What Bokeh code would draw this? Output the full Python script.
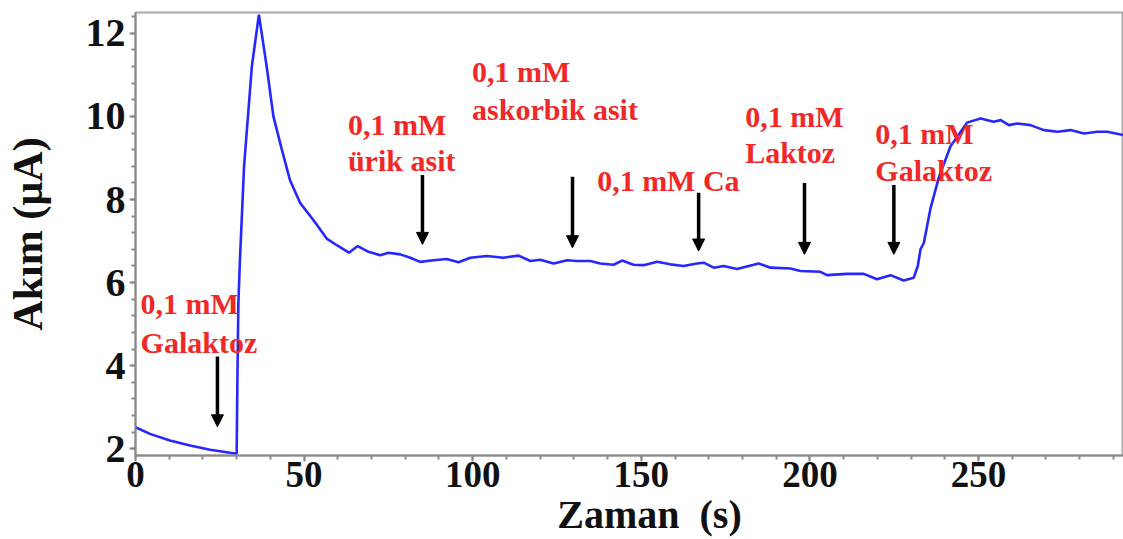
from bokeh.plotting import figure
from bokeh.models import Range1d, SingleIntervalTicker, Arrow, NormalHead, Label
from bokeh.embed import file_html
from bokeh.resources import INLINE

# ---- data ----
time_s = [0, 4.3, 10.2, 16.2, 22.1, 30, 30.2, 30.5, 31, 32.2, 34.5, 36.6, 38.9, 40.9, 43.4,
          45.8, 48.8, 52.8, 56.7, 59.7, 63.3, 65.9, 69.1, 72.6, 75, 78.5, 81.5, 84.4, 88.4,
          92.3, 95.8, 99.3, 104.2, 109.1, 113.6, 117.1, 120, 124, 128, 130.9, 134.9, 137.8,
          141.8, 144.3, 147.7, 150.7, 154.7, 158.6, 162.5, 166.5, 168.5, 171.5, 174.4, 178.4,
          184.8, 188.3, 194.2, 197.2, 203.1, 205.1, 211, 216, 219.9, 223.9, 227.8, 230.8,
          232, 232.8, 233.8, 235.8, 238.2, 241.7, 243.7, 246.6, 250.6, 254.5, 256.6, 259,
          261.5, 265.4, 269.4, 273.4, 277.3, 281.3, 285.2, 288.2, 293]
current_uA = [2.52, 2.36, 2.20, 2.08, 1.98, 1.88, 3.5, 5.5, 6.6, 8.8, 11.2, 12.45, 11.2, 10.0, 9.2,
              8.47, 7.92, 7.50, 7.06, 6.90, 6.72, 6.88, 6.74, 6.66, 6.72, 6.68, 6.60, 6.50, 6.54,
              6.57, 6.49, 6.60, 6.64, 6.60, 6.65, 6.52, 6.55, 6.46, 6.54, 6.52, 6.52, 6.46,
              6.43, 6.53, 6.43, 6.42, 6.50, 6.44, 6.40, 6.46, 6.48, 6.36, 6.40, 6.33,
              6.46, 6.36, 6.34, 6.28, 6.26, 6.18, 6.21, 6.21, 6.08, 6.18, 6.05, 6.12,
              6.40, 6.80, 6.96, 7.80, 8.52, 9.28, 9.51, 9.85, 9.95, 9.87, 9.91, 9.79,
              9.83, 9.79, 9.67, 9.63, 9.67, 9.59, 9.63, 9.63, 9.55]

# annotations: arrow x, arrow top, arrow tip (data units)
arrow_t = [24.3, 85.1, 129.6, 167.0, 198.4, 224.9]
arrow_top = [4.22, 8.59, 8.55, 8.16, 8.40, 8.35]
arrow_tip = [2.53, 6.92, 6.84, 6.76, 6.68, 6.68]

# label text lines: (x, baseline y, text) in data units
label_lines = [
    (1.5, 5.50, "0,1 mM"), (1.5, 4.56, "Galaktoz"),
    (63.0, 9.81, "0,1 mM"), (63.0, 8.94, "ürik asit"),
    (99.8, 11.07, "0,1 mM"), (99.8, 10.17, "askorbik asit"),
    (136.9, 8.46, "0,1 mM Ca"),
    (180.8, 10.00, "0,1 mM"), (180.8, 9.12, "Laktoz"),
    (219.4, 9.58, "0,1 mM"), (219.4, 8.70, "Galaktoz"),
]

x_min, x_max = 0, 293
y_min, y_max = 1.84, 12.5

p = figure(width=1123, height=539, output_backend="svg", toolbar_location=None,
           x_range=Range1d(x_min, x_max), y_range=Range1d(y_min, y_max),
           min_border_left=135, min_border_right=0, min_border_top=12, min_border_bottom=83)
p.grid.visible = False
p.outline_line_color = "#a8a8a8"
p.outline_line_width = 2

p.line(time_s, current_uA, line_color="#2626ff", line_width=2.6)

for t, top, tip in zip(arrow_t, arrow_top, arrow_tip):
    p.add_layout(Arrow(x_start=t, y_start=top, x_end=t, y_end=tip, line_width=3.5, line_color="black",
                       end=NormalHead(size=12, fill_color="black", line_color="black", line_width=1)))

for x, y, txt in label_lines:
    p.add_layout(Label(x=x, y=y, text=txt, text_color="#f02828", text_font="Liberation Serif",
                       text_font_style="bold", text_font_size="30px", text_baseline="alphabetic"))

p.xaxis.ticker = SingleIntervalTicker(interval=50, num_minor_ticks=5)
p.yaxis.ticker = SingleIntervalTicker(interval=2, num_minor_ticks=5)
for ax in (p.xaxis, p.yaxis):
    ax.axis_line_color = "#8a8a8a"
    ax.axis_line_width = 2
    ax.major_tick_line_color = "#8a8a8a"
    ax.minor_tick_line_color = "#8a8a8a"
    ax.major_tick_line_width = 2
    ax.minor_tick_line_width = 2
    ax.major_tick_out = 6
    ax.major_tick_in = 0
    ax.minor_tick_out = 4
    ax.minor_tick_in = 0
    ax.major_label_text_font = "Liberation Serif"
    ax.major_label_text_font_style = "bold"
    ax.major_label_text_color = "#111111"
    ax.axis_label_text_font = "Liberation Serif"
    ax.axis_label_text_font_style = "bold"
    ax.axis_label_text_color = "#111111"

p.xaxis.major_label_text_font_size = "37px"
p.yaxis.major_label_text_font_size = "40px"
p.xaxis.axis_label_text_font_size = "40px"
p.yaxis.axis_label_text_font_size = "42px"
p.xaxis.major_label_standoff = 0
p.yaxis.major_label_standoff = 4
p.xaxis.axis_label = "\u00a0" * 4 + "Zaman\u00a0\u00a0(s)"
p.yaxis.axis_label = "Akım (µA)"
p.xaxis.axis_label_standoff = 2
p.yaxis.axis_label_standoff = 32

open("out.html", "w").write(file_html(p, INLINE))
